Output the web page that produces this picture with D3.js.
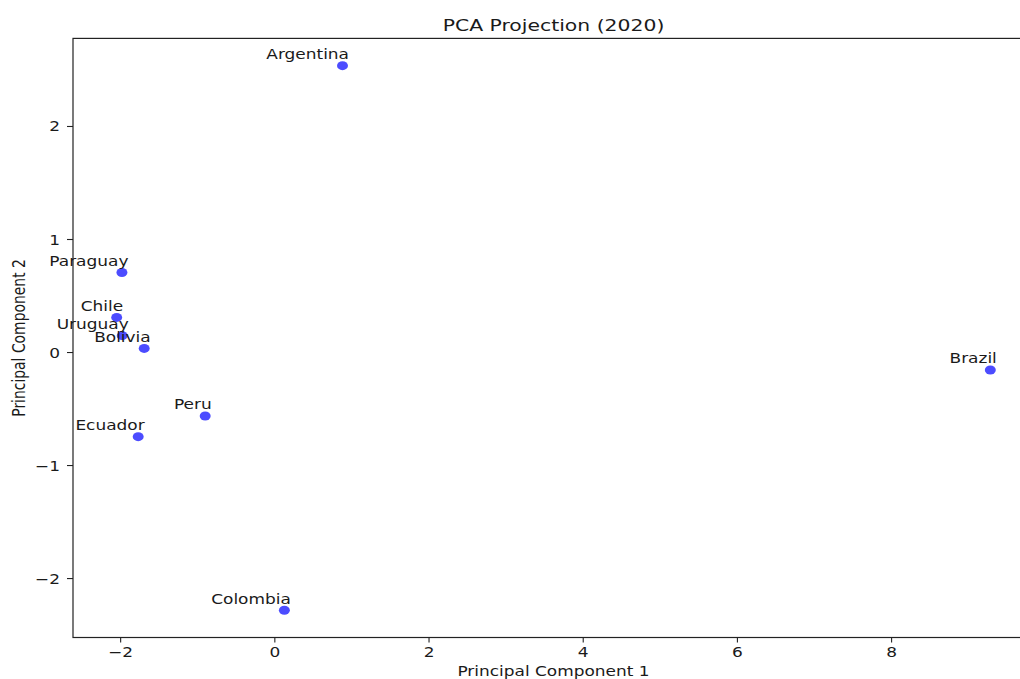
<!DOCTYPE html>
<html>
<head>
<meta charset="utf-8">
<script src="https://cdn.jsdelivr.net/npm/d3@7"></script>
<style>
  html, body { margin: 0; padding: 0; background: #fff; }
  svg { display: block; }
  text { font-family: "DejaVu Sans", sans-serif; fill: #1a1a1a; }
</style>
</head>
<body>
<svg id="chart" width="1020" height="679"></svg>
<script>
// ---- data ----
const countries = ["Argentina", "Paraguay", "Chile", "Uruguay", "Bolivia", "Peru", "Ecuador", "Colombia", "Brazil"];
const pc1 = [0.884, -1.977, -2.045, -1.973, -1.688, -0.897, -1.766, 0.130, 9.287];
const pc2 = [2.534, 0.704, 0.306, 0.145, 0.032, -0.566, -0.749, -2.285, -0.159];
const xTicks = [-2, 0, 2, 4, 6, 8];
const yTicks = [-2, -1, 0, 1, 2];
const title = "PCA Projection (2020)";
const xLabel = "Principal Component 1";
const yLabel = "Principal Component 2";

// ---- layout / style ----
const SX = 1.22;           // horizontal stretch of the reference picture
const FS = 13.9;
const plot = { left: 73, right: 1034, top: 38.4, bottom: 637.5 };

function padded(ext, m) { const r = ext[1] - ext[0]; return [ext[0] - r * m, ext[1] + r * m]; }

const x = d3.scaleLinear().domain(padded(d3.extent(pc1), 0.05)).range([plot.left, plot.right]);
const y = d3.scaleLinear().domain(padded(d3.extent(pc2), 0.05)).range([plot.bottom, plot.top]);

const svg = d3.select("#chart");

// x axis
const gx = svg.append("g").attr("transform", `translate(0,${plot.bottom})`)
  .call(d3.axisBottom(x).tickValues(xTicks).tickSize(4.9).tickFormat(d3.format("d")));
gx.select(".domain").remove();
gx.selectAll(".tick line").attr("stroke", "#222").attr("stroke-width", 1.1);
gx.selectAll(".tick text")
  .attr("y", null).attr("dy", null)
  .attr("transform", `translate(0,19.5) scale(${SX},1)`)
  .style("font-size", FS + "px").style("font-family", "DejaVu Sans").attr("fill", "#1a1a1a");

// y axis
const gy = svg.append("g").attr("transform", `translate(${plot.left},0)`)
  .call(d3.axisLeft(y).tickValues(yTicks).tickSize(6).tickFormat(d3.format("d")));
gy.select(".domain").remove();
gy.selectAll(".tick line").attr("stroke", "#222").attr("stroke-width", 1.1);
gy.selectAll(".tick text")
  .attr("x", null).attr("dy", null)
  .attr("transform", `translate(-13,5) scale(${SX},1)`)
  .style("font-size", FS + "px").style("font-family", "DejaVu Sans").attr("fill", "#1a1a1a");

// frame
svg.append("rect")
  .attr("x", plot.left).attr("y", plot.top)
  .attr("width", plot.right - plot.left).attr("height", plot.bottom - plot.top)
  .attr("fill", "none").attr("stroke", "#222").attr("stroke-width", 1.2);

// points
const idx = d3.range(countries.length);
svg.append("g").selectAll("ellipse").data(idx).join("ellipse")
  .attr("cx", i => x(pc1[i])).attr("cy", i => y(pc2[i]))
  .attr("rx", 4.5 * SX).attr("ry", 4.5)
  .attr("fill", "blue").attr("fill-opacity", 0.7);

// point labels
svg.append("g").selectAll("text").data(idx).join("text")
  .attr("transform", i => `translate(${x(pc1[i]) + 6.5},${y(pc2[i]) - 6.5}) scale(${SX},1)`)
  .attr("text-anchor", "end")
  .style("font-size", FS + "px")
  .text(i => countries[i]);

// title
svg.append("text")
  .attr("transform", `translate(${(plot.left + plot.right) / 2},31) scale(${SX},1)`)
  .attr("text-anchor", "middle")
  .style("font-size", "16.7px")
  .text(title);

// x label
svg.append("text")
  .attr("transform", `translate(${(plot.left + plot.right) / 2},676) scale(${SX},1)`)
  .attr("text-anchor", "middle")
  .style("font-size", FS + "px")
  .text(xLabel);

// y label
svg.append("text")
  .attr("transform", `translate(25,${(plot.top + plot.bottom) / 2}) scale(${SX},1) rotate(-90)`)
  .attr("text-anchor", "middle")
  .style("font-size", FS + "px")
  .text(yLabel);
</script>
</body>
</html>
